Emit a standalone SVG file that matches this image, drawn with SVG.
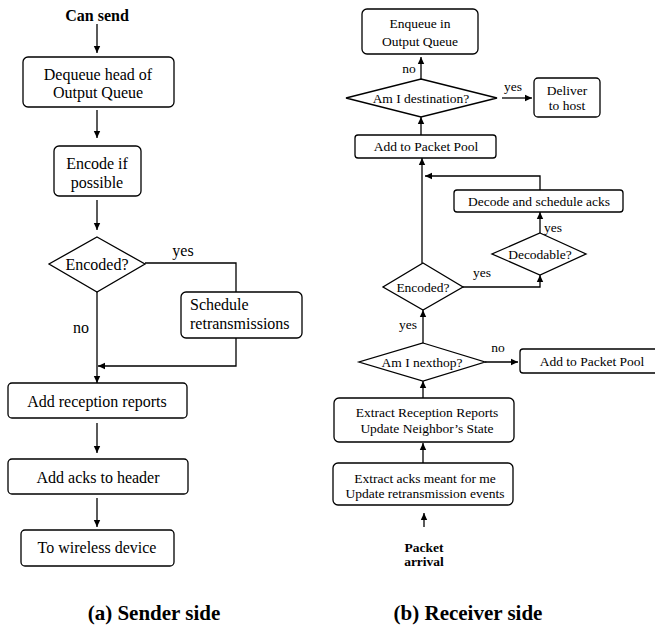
<svg xmlns="http://www.w3.org/2000/svg" width="655" height="626" viewBox="0 0 655 626">
<style>
.box{fill:#fff;stroke:#000;stroke-width:1.3}
.ln{fill:none;stroke:#000;stroke-width:1.3}
.t{font-family:"Liberation Serif","Times New Roman",serif;font-size:16px;text-anchor:middle;fill:#000}
.s{font-family:"Liberation Serif","Times New Roman",serif;font-size:13.5px;text-anchor:middle;fill:#000}
.b{font-weight:bold}
.cap{font-family:"Liberation Serif","Times New Roman",serif;font-size:21px;font-weight:bold;text-anchor:middle;fill:#000}
</style>
<defs>
<marker id="ah" markerWidth="8" markerHeight="8" refX="7" refY="4" orient="auto" markerUnits="userSpaceOnUse">
<path d="M0,0.8 L7,4 L0,7.2 z" fill="#000"/>
</marker>
</defs>
<rect width="655" height="626" fill="#fff"/>

<g id="connectors">
<!-- left -->
<path class="ln" d="M97,24 V53" marker-end="url(#ah)"/>
<path class="ln" d="M97,110 V138" marker-end="url(#ah)"/>
<path class="ln" d="M97,200 V230" marker-end="url(#ah)"/>
<path class="ln" d="M145,263 H236 V292"/>
<path class="ln" d="M236,338 V366 H98" marker-end="url(#ah)"/>
<path class="ln" d="M97,292 V383" marker-end="url(#ah)"/>
<path class="ln" d="M97,423 V453" marker-end="url(#ah)"/>
<path class="ln" d="M97,498 V527" marker-end="url(#ah)"/>
<!-- right -->
<path class="ln" d="M421,79 V57" marker-end="url(#ah)"/>
<path class="ln" d="M502,98 H532" marker-end="url(#ah)"/>
<path class="ln" d="M421,135 V117" marker-end="url(#ah)"/>
<path class="ln" d="M422,263 V158" marker-end="url(#ah)"/>
<path class="ln" d="M540,190 V176 H425" marker-end="url(#ah)"/>
<path class="ln" d="M540,233 V212" marker-end="url(#ah)"/>
<path class="ln" d="M463,287 H540 V275" marker-end="url(#ah)"/>
<path class="ln" d="M423,343 V310" marker-end="url(#ah)"/>
<path class="ln" d="M485,362 H518" marker-end="url(#ah)"/>
<path class="ln" d="M423,398 V381" marker-end="url(#ah)"/>
<path class="ln" d="M423,463 V443" marker-end="url(#ah)"/>
<path class="ln" d="M424,527 V513" marker-end="url(#ah)"/>
<!-- labels -->
<text class="t" x="183" y="256">yes</text>
<text class="t" x="81" y="333">no</text>
<text class="s" x="409" y="73">no</text>
<text class="s" x="513" y="91">yes</text>
<text class="s" x="553" y="232">yes</text>
<text class="s" x="482" y="277">yes</text>
<text class="s" x="408" y="329">yes</text>
<text class="s" x="498" y="352">no</text>
</g>

<!-- left side -->
<g id="can-send"><text class="t b" x="97" y="21">Can send</text></g>
<g id="dequeue"><rect class="box" x="23" y="57" width="151" height="50" rx="5"/>
<text class="t" x="98" y="80">Dequeue head of</text><text class="t" x="98" y="98">Output Queue</text></g>
<g id="encode"><rect class="box" x="54" y="146" width="87" height="50" rx="5"/>
<text class="t" x="97" y="169">Encode if</text><text class="t" x="97" y="188">possible</text></g>
<g id="encoded-l"><polygon class="box" points="97,237 145,264 97,292 49,264"/>
<text class="t" x="97" y="270">Encoded?</text></g>
<g id="schedule"><rect class="box" x="181" y="292" width="121" height="46" rx="5"/>
<text class="t" x="190" y="310" style="text-anchor:start">Schedule</text><text class="t" x="190" y="329" style="text-anchor:start">retransmissions</text></g>
<g id="reception"><rect class="box" x="8" y="383" width="179" height="35" rx="4"/>
<text class="t" x="97" y="407">Add reception reports</text></g>
<g id="acks"><rect class="box" x="8" y="459" width="180" height="35" rx="4"/>
<text class="t" x="98" y="483">Add acks to header</text></g>
<g id="wireless"><rect class="box" x="21" y="530" width="153" height="36" rx="4"/>
<text class="t" x="97" y="553">To wireless device</text></g>
<g id="cap-a"><text class="cap" x="154" y="620">(a) Sender side</text></g>

<!-- right side -->
<g id="enqueue"><rect class="box" x="362" y="9" width="116" height="45" rx="5"/>
<text class="s" x="420" y="28">Enqueue in</text><text class="s" x="420" y="46">Output Queue</text></g>
<g id="destination"><polygon class="box" points="421,79 497,98 421,117 346,98"/>
<text class="s" x="421" y="103">Am I destination?</text></g>
<g id="deliver"><rect class="box" x="534" y="78" width="66" height="39" rx="4"/>
<text class="s" x="567" y="95">Deliver</text><text class="s" x="567" y="110">to host</text></g>
<g id="pool-top"><rect class="box" x="355" y="135" width="141" height="23" rx="3"/>
<text class="s" x="426" y="151">Add to Packet Pool</text></g>
<g id="decode"><rect class="box" x="454" y="190" width="169" height="22" rx="3"/>
<text class="s" x="539" y="206">Decode and schedule acks</text></g>
<g id="decodable"><polygon class="box" points="540,233 586,254 540,275 492,254"/>
<text class="s" x="540" y="259">Decodable?</text></g>
<g id="encoded-r"><polygon class="box" points="423,263 463,287 423,310 383,287"/>
<text class="s" x="423" y="292">Encoded?</text></g>
<g id="nexthop"><polygon class="box" points="423,343 485,362 423,381 359,362"/>
<text class="s" x="422" y="367">Am I nexthop?</text></g>
<g id="pool-right"><rect class="box" x="520" y="349" width="142" height="24" rx="3"/>
<text class="s" x="592" y="366">Add to Packet Pool</text></g>
<g id="extract-reports"><rect class="box" x="334" y="398" width="180" height="44" rx="5"/>
<text class="s" x="427" y="417">Extract Reception Reports</text><text class="s" x="427" y="433">Update Neighbor’s State</text></g>
<g id="extract-acks"><rect class="box" x="333" y="463" width="180" height="42" rx="5"/>
<text class="s" x="425" y="483">Extract acks meant for me</text><text class="s" x="425" y="498">Update retransmission events</text></g>
<g id="arrival"><text class="s b" x="424" y="552">Packet</text><text class="s b" x="424" y="566">arrival</text></g>
<g id="cap-b"><text class="cap" x="468" y="620">(b) Receiver side</text></g>
</svg>
